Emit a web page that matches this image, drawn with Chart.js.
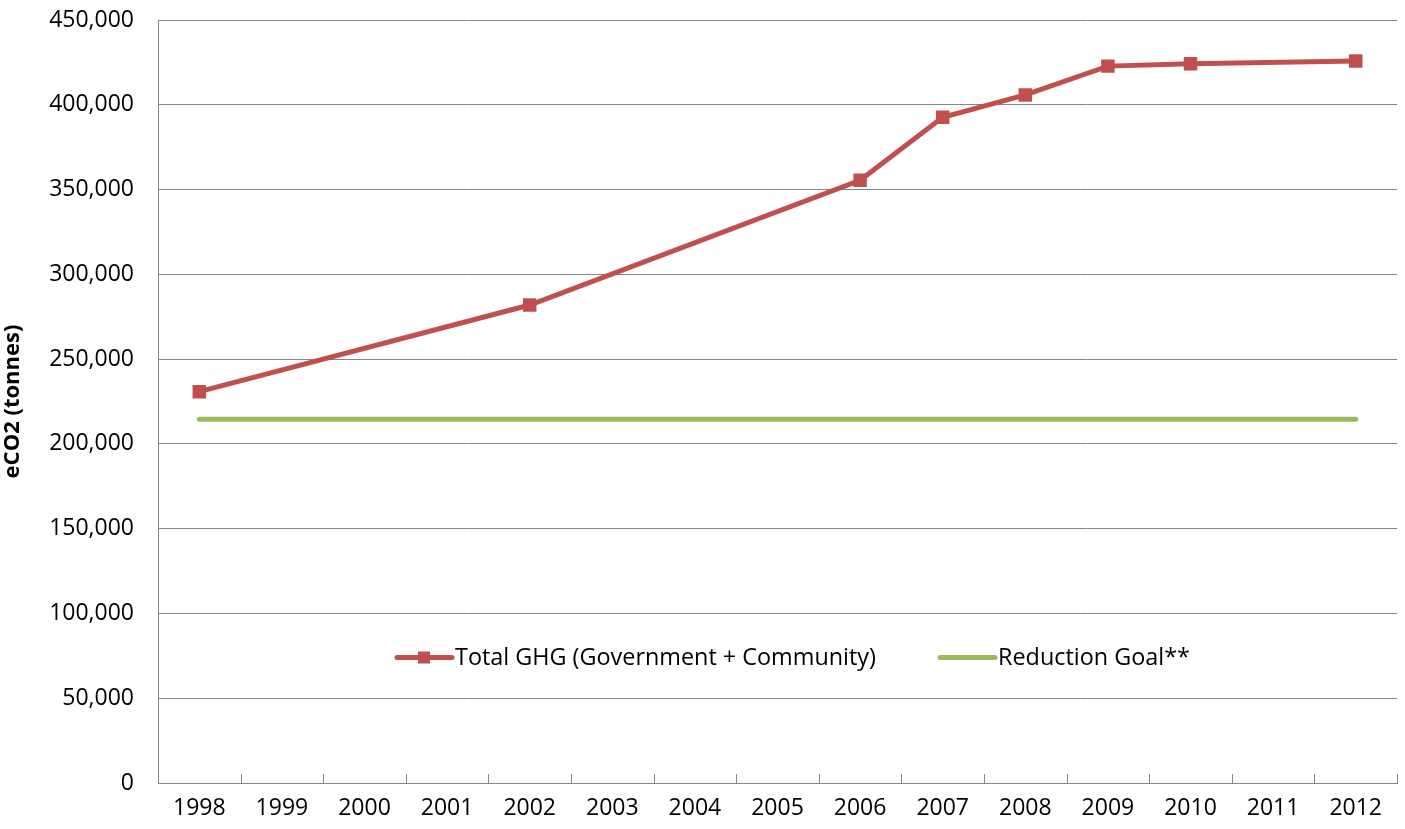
<!DOCTYPE html>
<html>
<head>
<meta charset="utf-8">
<script src="https://cdn.jsdelivr.net/npm/chart.js@4/dist/chart.umd.min.js"></script>
<style>
  html, body { margin: 0; padding: 0; background: #fff; }
  #wrap { width: 1405px; height: 829px; }
</style>
</head>
<body>
<div id="wrap"><canvas id="ghgChart" width="1405" height="829"></canvas></div>
<script>
const years = ['1998', '1999', '2000', '2001', '2002', '2003', '2004', '2005', '2006', '2007', '2008', '2009', '2010', '2011', '2012']
// solo hay datos para algunos años, el resto se une con spanGaps
const totalGhg = [230800, null, null, null, 281900, null, null, null, 355500, 392600, 405800, 422800, 424200, null, 425800]
const reductionGoal = [214600, 214600, 214600, 214600, 214600, 214600, 214600, 214600, 214600, 214600, 214600, 214600, 214600, 214600, 214600]
const yTicks = [0, 50000, 100000, 150000, 200000, 250000, 300000, 350000, 400000, 450000]

const FONT = "'Open Sans', 'Noto Sans', sans-serif"
const RED = '#C0504D'
const GREEN = '#9BBB59'
const GRID = '#868686'

// leyenda dentro del área del gráfico, como en Excel
const insideLegend = {
  id: 'insideLegend',
  afterDraw(chart) {
    const ctx = chart.ctx
    const y = chart.scales.y.getPixelForValue(74000)
    const items = [
      { x: 397, label: chart.data.datasets[0].label, color: RED, marker: true },
      { x: 940, label: chart.data.datasets[1].label, color: GREEN, marker: false },
    ]
    ctx.save()
    ctx.font = '23.4px ' + FONT
    ctx.textBaseline = 'middle'
    items.forEach(it => {
      ctx.strokeStyle = it.color
      ctx.lineWidth = 5
      ctx.lineCap = 'round'
      ctx.beginPath()
      ctx.moveTo(it.x, y)
      ctx.lineTo(it.x + 55, y)
      ctx.stroke()
      if (it.marker) {
        ctx.fillStyle = it.color
        ctx.fillRect(it.x + 21, y - 6, 12, 12)
      }
      ctx.fillStyle = '#000'
      ctx.fillText(it.label, it.x + 58, y + 1)
    })
    ctx.restore()
  },
}

// marcas del eje x hacia dentro
const innerTicks = {
  id: 'innerTicks',
  afterDraw(chart) {
    const ctx = chart.ctx
    const xs = chart.scales.x
    const bottom = chart.chartArea.bottom
    const step = (xs.right - xs.left) / years.length
    ctx.save()
    ctx.strokeStyle = GRID
    ctx.lineWidth = 1
    ctx.beginPath()
    for (let i = 1; i <= years.length; i++) {
      const x = Math.round(xs.left + step * i) + 0.5
      ctx.moveTo(x, bottom)
      ctx.lineTo(x, bottom - 9)
    }
    ctx.stroke()
    ctx.restore()
  },
}

const ctx = document.getElementById('ghgChart').getContext('2d')
new Chart(ctx, {
  type: 'line',
  data: {
    labels: years,
    datasets: [
      {
        label: 'Total GHG (Government + Community)',
        data: totalGhg,
        borderColor: RED,
        backgroundColor: RED,
        borderWidth: 5,
        pointStyle: 'rect',
        pointRadius: 6,
        pointHoverRadius: 6,
        spanGaps: true,
        tension: 0,
      },
      {
        label: 'Reduction Goal**',
        data: reductionGoal,
        borderColor: GREEN,
        backgroundColor: GREEN,
        borderWidth: 5,
        borderCapStyle: 'round',
        pointRadius: 0,
        tension: 0,
      },
    ],
  },
  options: {
    responsive: false,
    animation: false,
    layout: { autoPadding: false, padding: { top: 20, right: 8, left: 0, bottom: 0 } },
    plugins: {
      legend: { display: false },
      tooltip: { enabled: false },
    },
    scales: {
      x: {
        offset: true,
        grid: { display: false, offset: true },
        border: { display: true, color: GRID, width: 1 },
        ticks: { color: '#000', font: { family: FONT, size: 23 }, padding: 4, maxRotation: 0, autoSkip: false },
        afterFit: scale => {
          scale.height = 46
          scale.paddingLeft = 0
          scale.paddingRight = 0
        },
      },
      y: {
        min: 0,
        max: 450000,
        afterBuildTicks: scale => { scale.ticks = yTicks.map(v => ({ value: v })) },
        grid: { color: GRID, lineWidth: 1, drawTicks: false },
        border: { display: true, color: GRID, width: 1 },
        ticks: {
          color: '#000',
          font: { family: FONT, size: 23 },
          padding: 24,
          callback: v => v.toLocaleString('en-US'),
        },
        title: {
          display: true,
          text: 'eCO2 (tonnes)',
          color: '#000',
          font: { family: FONT, size: 22, weight: 'bold' },
          padding: { top: 0, bottom: 0 },
        },
        afterFit: scale => {
          scale.width = 158
          scale.paddingTop = 0
          scale.paddingBottom = 0
        },
      },
    },
  },
  plugins: [insideLegend, innerTicks],
})
</script>
</body>
</html>
